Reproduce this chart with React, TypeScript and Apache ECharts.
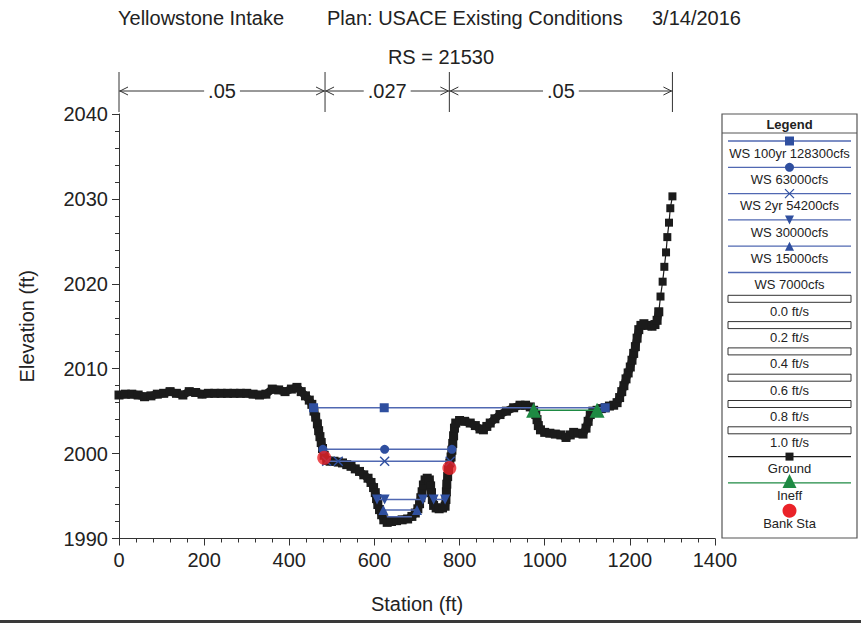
import React, { useEffect, useRef } from 'react';
import * as echarts from 'echarts';

// ---------- text ----------
const titleLeft = 'Yellowstone Intake';
const titlePlan = 'Plan: USACE Existing Conditions';
const titleDate = '3/14/2016';
const subTitle = 'RS = 21530';
const xName = 'Station (ft)';
const yName = 'Elevation (ft)';

// ---------- data (station ft, elevation ft) ----------
const groundMain: number[][] = [
  [0, 2006.9], [15, 2007.0], [30, 2007.0], [45, 2006.9], [60, 2006.7], [75, 2006.8], [90, 2007.0],
  [105, 2007.1], [120, 2007.3], [135, 2007.1], [150, 2006.9], [165, 2007.3], [180, 2007.2], [195, 2007.0],
  [210, 2007.1], [225, 2007.1], [240, 2007.1], [255, 2007.1], [270, 2007.1], [285, 2007.1], [300, 2007.1],
  [315, 2007.0], [330, 2006.9], [345, 2007.0], [360, 2007.6], [375, 2007.5], [390, 2007.3], [405, 2007.6],
  [418, 2007.8], [428, 2007.3], [438, 2006.8], [447, 2006.3], [453, 2005.8], [458, 2005.0], [462, 2004.3],
  [466, 2003.5], [469, 2002.7], [472, 2002.0], [475, 2001.3], [478, 2000.6], [482, 1999.8], [488, 1999.2],
  [496, 1999.1], [505, 1999.1], [515, 1999.0], [525, 1998.9], [535, 1998.7], [545, 1998.5], [555, 1998.2],
  [565, 1997.9], [575, 1997.5], [585, 1997.1], [592, 1996.6], [598, 1996.0], [602, 1995.4], [605, 1994.7],
  [608, 1994.0], [612, 1993.4], [617, 1992.8], [622, 1992.2], [630, 1991.9], [640, 1992.0], [652, 1992.1],
  [665, 1992.2], [678, 1992.3], [688, 1992.6], [696, 1993.0], [702, 1993.5], [706, 1994.1], [709, 1994.8],
  [712, 1995.5], [715, 1996.3], [719, 1996.9], [724, 1997.1], [729, 1996.9], [732, 1996.2], [734, 1995.4],
  [736, 1994.6], [739, 1993.9], [745, 1993.6], [752, 1993.5], [760, 1993.6], [766, 1993.8], [768, 1994.6],
  [769, 1995.5], [770, 1996.4], [772, 1997.3], [774, 1998.1], [777, 1998.9], [780, 1999.6], [782, 2000.4],
  [784, 2001.2], [786, 2002.1], [788, 2003.0], [791, 2003.6], [800, 2003.9], [812, 2003.8], [825, 2003.6],
  [837, 2003.3], [848, 2002.9], [856, 2002.8], [864, 2003.2], [872, 2003.6], [883, 2004.1], [895, 2004.6],
  [910, 2005.0], [927, 2005.4], [942, 2005.7], [955, 2005.7], [966, 2005.5], [974, 2005.1], [979, 2004.6],
  [982, 2004.0], [985, 2003.3], [990, 2002.8], [1000, 2002.5], [1012, 2002.4], [1025, 2002.3], [1038, 2002.2],
  [1050, 2001.9], [1060, 2002.2], [1068, 2002.5], [1078, 2002.4], [1090, 2002.3], [1097, 2003.0], [1102, 2003.8],
  [1107, 2004.6], [1113, 2005.0], [1123, 2005.1], [1133, 2005.3], [1142, 2005.4], [1152, 2005.6], [1162, 2005.7],
  [1170, 2006.0], [1176, 2006.6], [1181, 2007.3], [1186, 2008.0], [1191, 2008.8], [1196, 2009.5], [1201, 2010.2],
  [1205, 2011.0], [1209, 2011.8], [1213, 2012.6], [1217, 2013.6], [1221, 2014.6], [1226, 2015.1], [1233, 2015.3],
  [1243, 2015.1], [1252, 2015.0], [1259, 2015.2], [1264, 2015.7], [1268, 2016.7],
];
const groundTail: number[][] = [
  [1268, 2016.7], [1272, 2018.5], [1277, 2020.25], [1281, 2022.0], [1285, 2023.7], [1288, 2025.5],
  [1292, 2027.2], [1295, 2028.9], [1300, 2030.3],
];
const ws100yr: number[][] = [[457, 2005.4], [623, 2005.4], [1142, 2005.4]];
const ws63000: number[][] = [[479, 2000.5], [624, 2000.5], [782, 2000.5]];
const ws2yr: number[][] = [[488, 1999.1], [515, 1999.1], [624, 1999.1], [778, 1999.1]];
const ws30000a: number[][] = [[606, 1994.6], [624, 1994.6], [714, 1994.6]];
const ws30000b: number[][] = [[739, 1994.6], [766, 1994.6]];
const ws15000: number[][] = [[621, 1993.35], [700, 1993.35]];
const ws7000: number[][] = [[629, 1992.55], [688, 1992.55]];
const ineff: number[][] = [[974, 2005.1], [1123, 2005.1]];
const bankSta: number[][] = [[482, 1999.5], [776, 1998.3]];

const nBreaks = [0, 484, 776, 1300];
const nValues = ['.05', '.027', '.05'];

const wsLegend = ['WS 100yr 128300cfs', 'WS 63000cfs', 'WS 2yr 54200cfs', 'WS 30000cfs', 'WS 15000cfs', 'WS 7000cfs'];
const velocityLegend = ['0.0 ft/s', '0.2 ft/s', '0.4 ft/s', '0.6 ft/s', '0.8 ft/s', '1.0 ft/s'];
const otherLegend = ['Ground', 'Ineff', 'Bank Sta'];

// ---------- styles ----------
const FONT = '"Liberation Sans", Arial, Helvetica, sans-serif';
const BLUE_LINE = '#5068b2';
const BLUE_MARK = '#2f4f9f';
const GROUND = '#1b1b1b';
const GREEN = '#1e8a43';
const RED = '#ea2228';
const AXIS = '#333333';
const XSYM = 'path://M0,1L1,0L5,4L9,0L10,1L6,5L10,9L9,10L5,6L1,10L0,9L4,5Z';

function wsSeries(name: string, data: number[][], symbol: string, size: number, rotate = 0) {
  return {
    type: 'line',
    name,
    data,
    symbol: symbol || 'none',
    showSymbol: !!symbol,
    symbolSize: size,
    symbolRotate: rotate,
    lineStyle: { color: BLUE_LINE, width: 1.5 },
    itemStyle: { color: BLUE_MARK },
    z: 4,
    silent: true,
  };
}

export default function App() {
  const ref = useRef<HTMLDivElement>(null);

  useEffect(() => {
    if (!ref.current) return;
    const chart = echarts.init(ref.current, undefined, { renderer: 'svg' });

    const axisCommon = {
      axisLine: { show: true, lineStyle: { color: AXIS, width: 1 } },
      axisTick: { show: true, length: 7, lineStyle: { color: AXIS } },
      minorTick: { show: true, splitNumber: 5, length: 4, lineStyle: { color: AXIS } },
      splitLine: { show: false },
      minorSplitLine: { show: false },
      axisLabel: { fontSize: 20, color: '#222', fontFamily: FONT, margin: 11, formatter: (v: number) => String(v) },
      nameTextStyle: { fontSize: 20, color: '#222', fontFamily: FONT },
      nameLocation: 'middle',
    };

    chart.setOption({
      animation: false,
      backgroundColor: '#ffffff',
      textStyle: { fontFamily: FONT },
      grid: { left: 119, top: 114, right: 146, bottom: 85.5, containLabel: false },
      xAxis: {
        type: 'value', min: 0, max: 1400, interval: 200,
        name: xName, nameGap: 55,
        ...axisCommon,
      },
      yAxis: {
        type: 'value', min: 1990, max: 2040, interval: 10,
        name: yName, nameGap: 82,
        ...axisCommon,
      },
      series: [
        {
          type: 'line', name: 'Ground', data: groundMain, symbol: 'rect', symbolSize: 9, showSymbol: true,
          lineStyle: { color: GROUND, width: 8 }, itemStyle: { color: GROUND }, z: 2, silent: true,
        },
        {
          type: 'line', name: 'Ground tail', data: groundTail, symbol: 'rect', symbolSize: 8, showSymbol: true,
          lineStyle: { color: GROUND, width: 1.2 }, itemStyle: { color: GROUND }, z: 2, silent: true,
        },
        wsSeries(wsLegend[0], ws100yr, 'rect', 9),
        wsSeries(wsLegend[1], ws63000, 'circle', 9),
        wsSeries(wsLegend[2], ws2yr, XSYM, 10),
        wsSeries(wsLegend[3], ws30000a, 'triangle', 10, 180),
        wsSeries(wsLegend[3] + ' b', ws30000b, 'triangle', 10, 180),
        wsSeries(wsLegend[4], ws15000, 'triangle', 10),
        wsSeries(wsLegend[5], ws7000, '', 0),
        {
          type: 'line', name: 'Ineff', data: ineff, symbol: 'triangle', symbolSize: 15, showSymbol: true,
          lineStyle: { color: GREEN, width: 1.5 }, itemStyle: { color: GREEN }, z: 5, silent: true,
        },
        {
          type: 'scatter', name: 'Bank Sta', data: bankSta, symbol: 'circle', symbolSize: 14,
          itemStyle: { color: RED }, z: 6, silent: true,
        },
      ],
    });

    // ---------- graphic overlays ----------
    const px = (st: number) => (chart.convertToPixel({ gridIndex: 0 } as any, [st, 2000]) as number[])[0];
    const g: any[] = [];
    const txt = (text: string, x: number, y: number, size: number, align = 'left', weight = 'normal', extra: any = {}) => ({
      type: 'text', x, y, z: 20,
      style: { text, fontSize: size, fontFamily: FONT, fill: '#222', align, verticalAlign: 'middle', fontWeight: weight, ...extra },
    });

    // titles
    g.push(txt(titleLeft, 118, 18, 20));
    g.push(txt(titlePlan, 327, 18, 20));
    g.push(txt(titleDate, 652, 18, 20));
    g.push(txt(subTitle, 441, 57, 20, 'center'));

    // Manning's n dimension lines
    const dimColor = '#333';
    const yTop = 72, yBot = 112, yArr = 91;
    nBreaks.forEach((b) => {
      const x = px(b);
      g.push({ type: 'line', z: 20, shape: { x1: x, y1: yTop, x2: x, y2: yBot }, style: { stroke: dimColor, lineWidth: 1 } });
    });
    nValues.forEach((v, i) => {
      const xl = px(nBreaks[i]);
      const xr = px(nBreaks[i + 1]);
      g.push({ type: 'line', z: 20, shape: { x1: xl, y1: yArr, x2: xr, y2: yArr }, style: { stroke: dimColor, lineWidth: 1 } });
      g.push({ type: 'polyline', z: 20, shape: { points: [[xl + 9, yArr - 4], [xl + 1, yArr], [xl + 9, yArr + 4]] }, style: { stroke: dimColor, lineWidth: 1, fill: 'none' } });
      g.push({ type: 'polyline', z: 20, shape: { points: [[xr - 9, yArr - 4], [xr - 1, yArr], [xr - 9, yArr + 4]] }, style: { stroke: dimColor, lineWidth: 1, fill: 'none' } });
      g.push(txt(v, (xl + xr) / 2, yArr, 20, 'center', 'normal', { backgroundColor: '#fff', padding: [0, 4, 0, 4] }));
    });

    // legend box
    const lx = 722, ly = 114, lw = 135, lh = 424;
    const cx = lx + lw / 2;
    const l1 = 728, l2 = 851;
    g.push({ type: 'rect', z: 18, shape: { x: lx, y: ly, width: lw, height: lh }, style: { fill: '#fff', stroke: '#555', lineWidth: 1.2 } });
    g.push(txt('Legend', cx, 124, 13, 'center', 'bold'));
    g.push({ type: 'line', z: 20, shape: { x1: lx, y1: 133, x2: lx + lw, y2: 133 }, style: { stroke: '#555', lineWidth: 1 } });
    const pitch = 26.3;
    const row0 = 141;
    const lineAt = (i: number) => row0 + pitch * i;
    const hline = (y: number, color: string) => ({ type: 'line', z: 20, shape: { x1: l1, y1: y, x2: l2, y2: y }, style: { stroke: color, lineWidth: 1.3 } });
    const tri = (x: number, y: number, s: number, down: boolean, color: string) => ({
      type: 'polygon', z: 21,
      shape: { points: down ? [[x - s / 2, y - s / 2], [x + s / 2, y - s / 2], [x, y + s / 2]] : [[x - s / 2, y + s / 2], [x + s / 2, y + s / 2], [x, y - s / 2]] },
      style: { fill: color },
    });
    wsLegend.forEach((label, i) => {
      const y = lineAt(i);
      g.push(hline(y, BLUE_LINE));
      if (i === 0) g.push({ type: 'rect', z: 21, shape: { x: cx - 4.5, y: y - 4.5, width: 9, height: 9 }, style: { fill: BLUE_MARK } });
      if (i === 1) g.push({ type: 'circle', z: 21, shape: { cx, cy: y, r: 4.5 }, style: { fill: BLUE_MARK } });
      if (i === 2) {
        g.push({ type: 'line', z: 21, shape: { x1: cx - 4.5, y1: y - 4.5, x2: cx + 4.5, y2: y + 4.5 }, style: { stroke: BLUE_MARK, lineWidth: 1.3 } });
        g.push({ type: 'line', z: 21, shape: { x1: cx - 4.5, y1: y + 4.5, x2: cx + 4.5, y2: y - 4.5 }, style: { stroke: BLUE_MARK, lineWidth: 1.3 } });
      }
      if (i === 3) g.push(tri(cx, y, 9, true, BLUE_MARK));
      if (i === 4) g.push(tri(cx, y, 9, false, BLUE_MARK));
      g.push(txt(label, cx, y + 12.3, 13, 'center'));
    });
    velocityLegend.forEach((label, k) => {
      const i = wsLegend.length + k;
      const y = lineAt(i);
      g.push({ type: 'rect', z: 21, shape: { x: l1, y: y - 3.5, width: l2 - l1, height: 7 }, style: { fill: '#fff', stroke: '#333', lineWidth: 1 } });
      g.push(txt(label, cx, y + 12.3, 13, 'center'));
    });
    otherLegend.forEach((label, k) => {
      const i = wsLegend.length + velocityLegend.length + k;
      const y = lineAt(i);
      if (k === 0) {
        g.push(hline(y, GROUND));
        g.push({ type: 'rect', z: 21, shape: { x: cx - 4, y: y - 4, width: 8, height: 8 }, style: { fill: GROUND } });
      }
      if (k === 1) {
        g.push(hline(y, GREEN));
        g.push(tri(cx, y - 2, 14, false, GREEN));
      }
      if (k === 2) {
        g.push({ type: 'circle', z: 21, shape: { cx, cy: y + 1.5, r: 7 }, style: { fill: RED } });
      }
      g.push(txt(label, cx, y + 12.3 + (k === 2 ? 2 : 0), 13, 'center'));
    });

    // bottom border line
    g.push({ type: 'rect', z: 20, shape: { x: 0, y: 620, width: 861, height: 3 }, style: { fill: '#3a3a3a' } });

    chart.setOption({ graphic: { elements: g } });

    return () => chart.dispose();
  }, []);

  return (
    <div
      ref={ref}
      style={{ position: 'absolute', left: 0, top: 0, width: 861, height: 624, background: '#fff' }}
    />
  );
}
